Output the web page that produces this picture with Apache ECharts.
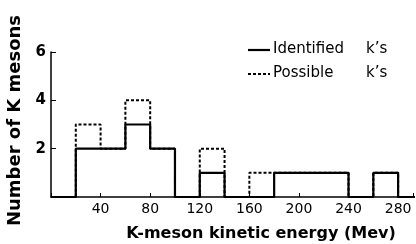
<!DOCTYPE html>
<html><head><meta charset="utf-8">
<script src="https://cdn.jsdelivr.net/npm/echarts@6/dist/echarts.min.js"></script>
<style>html,body{margin:0;padding:0;background:#fff}#c{width:416px;height:244px}</style>
</head><body><div id="c"></div>
<script>
// Histogram bins of 20 MeV (lower edges), counts per bin
const binEdges = [0,20,40,60,80,100,120,140,160,180,200,220,240,260,280,300];
const identifiedCounts = [0,2,2,3,2,0,1,0,0,1,1,1,0,1,0];
const possibleCounts   = [0,3,2,4,2,0,2,0,1,1,1,1,0,1,0];
const xTicks = [40,80,120,160,200,240,280];
const yTicks = [2,4,6];
const legendNames = ['Identified','Possible'];

function outline(counts){
  const pts = [];
  for (let i = 0; i < binEdges.length; i++) {
    const prev = i > 0 ? counts[i-1] : 0;
    const next = i < counts.length ? counts[i] : 0;
    pts.push([binEdges[i], prev]);
    pts.push([binEdges[i], next]);
  }
  return pts;
}

const chart = echarts.init(document.getElementById('c'));
const font = 'DejaVu Sans, sans-serif';
const txt = {fill:'#000',fontFamily:font,fontSize:15};
chart.setOption({
  animation:false,
  backgroundColor:'#fff',
  grid:{left:51,right:3,top:52,bottom:47,containLabel:false,outerBoundsMode:'none'},
  graphic:[
    {type:'line',shape:{x1:248,y1:50,x2:270,y2:50},style:{stroke:'#000',lineWidth:2.2}},
    {type:'line',shape:{x1:248,y1:74,x2:270,y2:74},style:{stroke:'#000',lineWidth:2,lineDash:[3,2]}},
    {type:'text',left:273,top:42,style:Object.assign({text:legendNames[0]},txt)},
    {type:'text',left:366,top:42,style:Object.assign({text:'k\u2019s'},txt)},
    {type:'text',left:273,top:66,style:Object.assign({text:legendNames[1]},txt)},
    {type:'text',left:366,top:66,style:Object.assign({text:'k\u2019s'},txt)}
  ],
  xAxis:{
    type:'value', min:0, max:292, interval:40,
    axisLine:{lineStyle:{color:'#000',width:1.5}},
    axisTick:{inside:true,length:4,lineStyle:{color:'#000'}},
    splitLine:{show:false},
    axisLabel:{color:'#000',fontFamily:font,fontSize:14,margin:5,
      formatter:function(v){return xTicks.indexOf(v)>=0?String(v):'';}},
    name:'K-meson kinetic energy (Mev)', nameLocation:'middle', nameGap:29,
    nameTextStyle:{color:'#000',fontFamily:font,fontSize:16,fontWeight:'bold',verticalAlign:'top',padding:[0,0,0,58]}
  },
  yAxis:{
    type:'value', min:0, max:6, interval:2,
    axisLine:{show:true,lineStyle:{color:'#000',width:1.5}},
    axisTick:{show:true,inside:true,length:5,lineStyle:{color:'#000'}},
    splitLine:{show:false},
    axisLabel:{color:'#000',fontFamily:font,fontSize:15,fontWeight:'bold',margin:5,
      formatter:function(v){return yTicks.indexOf(v)>=0?String(v):'';}},
    name:'Number of K mesons', nameLocation:'middle', nameGap:20,
    nameTextStyle:{color:'#000',fontFamily:font,fontSize:18,fontWeight:'bold',verticalAlign:'bottom',padding:[0,0,0,8]}
  },
  series:[
    {name:'Possible',type:'line',data:outline(possibleCounts),symbol:'none',z:2,
      lineStyle:{color:'#000',width:2,type:[3,2]}},
    {name:'Identified',type:'line',data:outline(identifiedCounts),symbol:'none',z:3,
      lineStyle:{color:'#000',width:2.2}}
  ]
});
</script></body></html>
